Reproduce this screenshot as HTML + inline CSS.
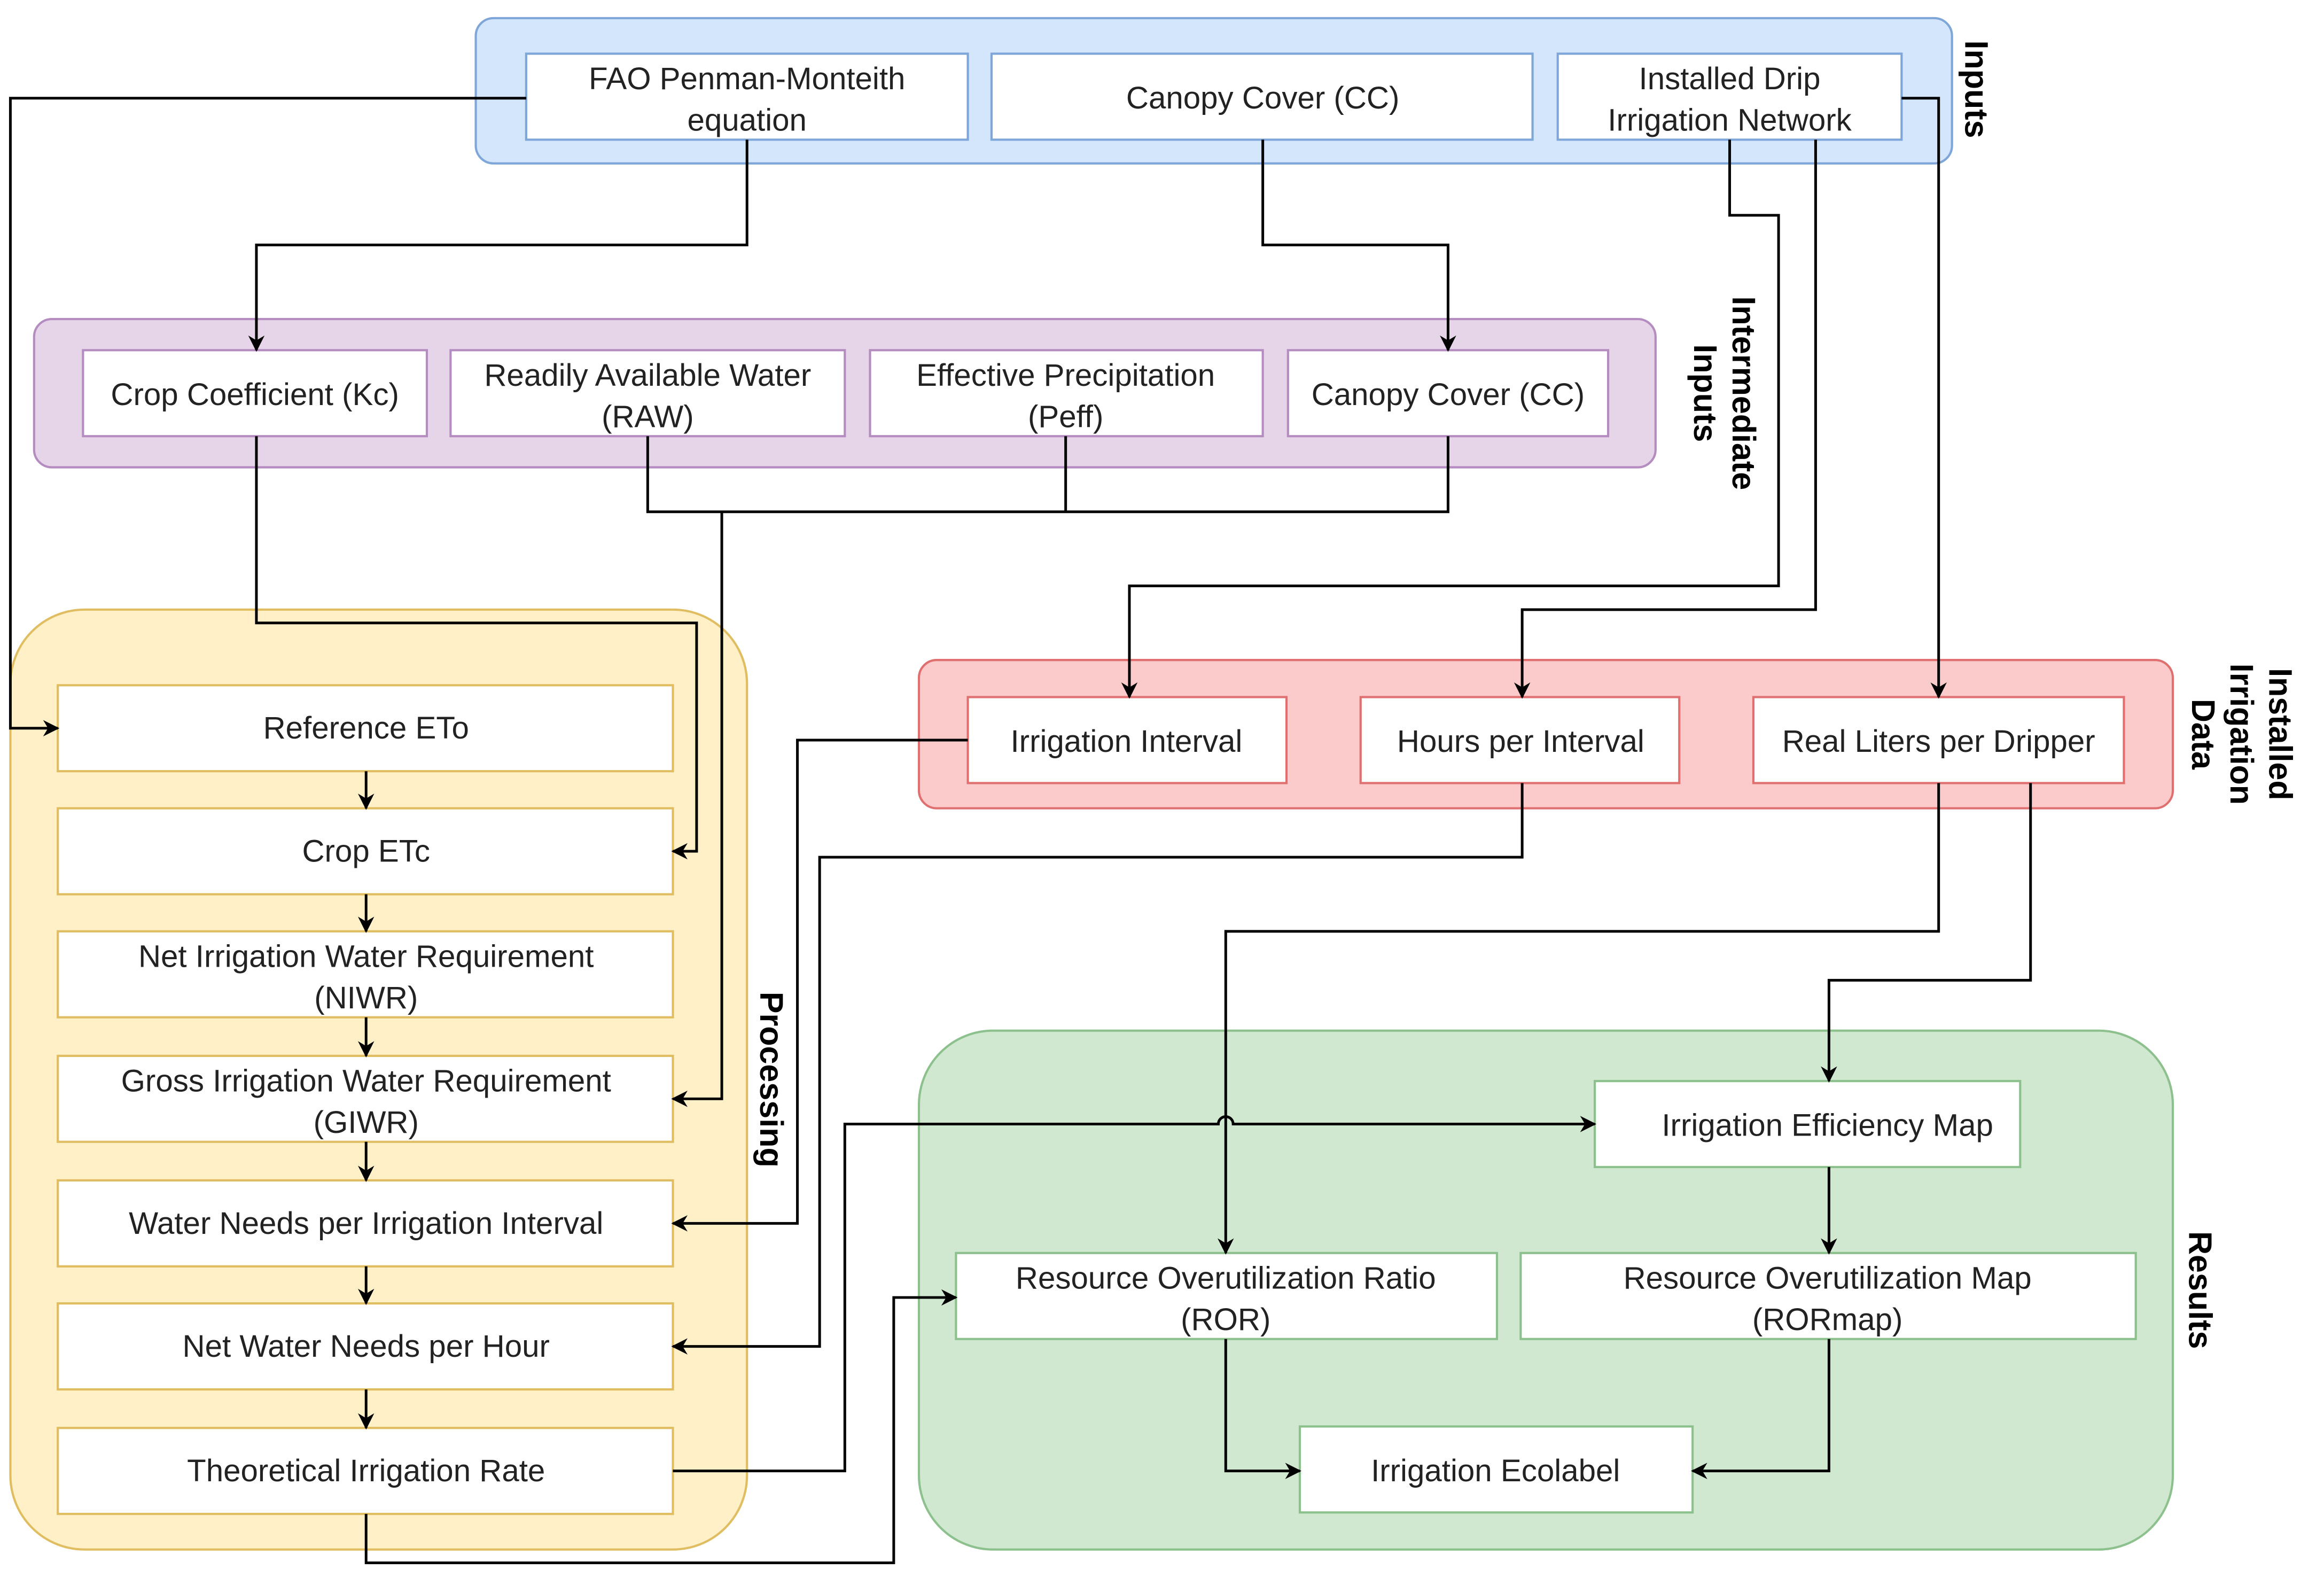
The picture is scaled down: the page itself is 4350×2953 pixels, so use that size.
<!DOCTYPE html>
<html><head><meta charset="utf-8"><style>html,body{margin:0;padding:0;background:#fff}svg{display:block}text{font-family:"Liberation Sans",Arial,sans-serif;font-size:21px;fill:#222}</style></head><body>
<svg width="4350" height="2953" viewBox="0 0 1568 1064" xmlns="http://www.w3.org/2000/svg">
<defs><marker id="a" viewBox="0 0 10 10" refX="9" refY="5" markerWidth="11" markerHeight="11" orient="auto" markerUnits="userSpaceOnUse"><path d="M0,0 L10,5 L0,10 L3,5 z" fill="#000"/></marker></defs>
<rect x="321" y="12" width="996" height="98" rx="12" fill="#d4e6fb" stroke="#7ea6d8" stroke-width="1.5"/>
<rect x="23" y="215" width="1094" height="100" rx="12" fill="#e6d5e8" stroke="#b58cc0" stroke-width="1.5"/>
<rect x="7" y="411" width="497" height="634" rx="50" fill="#fff0c8" stroke="#e0bd60" stroke-width="1.5"/>
<rect x="620" y="445" width="846" height="100" rx="12" fill="#fbcbcb" stroke="#e07070" stroke-width="1.5"/>
<rect x="620" y="695" width="846" height="350" rx="50" fill="#d0e8d0" stroke="#8cc08c" stroke-width="1.5"/>
<text transform="translate(1326,60) rotate(90)" text-anchor="middle" style="font-weight:bold;font-size:22px;fill:#000">Inputs</text>
<text transform="translate(1158,265) rotate(90)" text-anchor="middle" style="font-weight:bold;font-size:22px;fill:#000"><tspan x="0" y="-11">Intermediate</tspan><tspan x="0" y="15">Inputs</tspan></text>
<text transform="translate(513,728) rotate(90)" text-anchor="middle" style="font-weight:bold;font-size:22px;fill:#000">Processing</text>
<text transform="translate(1505,495) rotate(90)" text-anchor="middle" style="font-weight:bold;font-size:22px;fill:#000"><tspan x="0" y="-26">Installed</tspan><tspan x="0" y="0">Irrigation</tspan><tspan x="0" y="26">Data</tspan></text>
<text transform="translate(1477,870) rotate(90)" text-anchor="middle" style="font-weight:bold;font-size:22px;fill:#000">Results</text>
<g fill="#fff" stroke-width="1.5">
<rect x="355" y="36" width="298" height="58" stroke="#7ea6d8"/>
<rect x="669" y="36" width="365" height="58" stroke="#7ea6d8"/>
<rect x="1051" y="36" width="232" height="58" stroke="#7ea6d8"/>
<rect x="56" y="236" width="232" height="58" stroke="#b58cc0"/>
<rect x="304" y="236" width="266" height="58" stroke="#b58cc0"/>
<rect x="587" y="236" width="265" height="58" stroke="#b58cc0"/>
<rect x="869" y="236" width="216" height="58" stroke="#b58cc0"/>
<g stroke="#e0bd60">
<rect x="39" y="462" width="415" height="58"/><rect x="39" y="545" width="415" height="58"/>
<rect x="39" y="628" width="415" height="58"/><rect x="39" y="712" width="415" height="58"/>
<rect x="39" y="796" width="415" height="58"/><rect x="39" y="879" width="415" height="58"/>
<rect x="39" y="963" width="415" height="58"/></g>
<g stroke="#e07070">
<rect x="653" y="470" width="215" height="58"/><rect x="918" y="470" width="215" height="58"/><rect x="1183" y="470" width="250" height="58"/></g>
<g stroke="#8cc08c">
<rect x="1076" y="729" width="287" height="58"/><rect x="645" y="845" width="365" height="58"/>
<rect x="1026" y="845" width="415" height="58"/><rect x="877" y="962" width="265" height="58"/></g>
</g>
<g text-anchor="middle">
<text x="504" y="60">FAO Penman-Monteith</text><text x="504" y="88">equation</text>
<text x="852" y="73">Canopy Cover (CC)</text>
<text x="1167" y="60">Installed Drip</text><text x="1167" y="88">Irrigation Network</text>
<text x="172" y="273">Crop Coefficient (Kc)</text>
<text x="437" y="260">Readily Available Water</text><text x="437" y="288">(RAW)</text>
<text x="719" y="260">Effective Precipitation</text><text x="719" y="288">(Peff)</text>
<text x="977" y="273">Canopy Cover (CC)</text>
<text x="247" y="498">Reference ETo</text>
<text x="247" y="581">Crop ETc</text>
<text x="247" y="652">Net Irrigation Water Requirement</text><text x="247" y="680">(NIWR)</text>
<text x="247" y="736">Gross Irrigation Water Requirement</text><text x="247" y="764">(GIWR)</text>
<text x="247" y="832">Water Needs per Irrigation Interval</text>
<text x="247" y="915">Net Water Needs per Hour</text>
<text x="247" y="999">Theoretical Irrigation Rate</text>
<text x="760" y="507">Irrigation Interval</text>
<text x="1026" y="507">Hours per Interval</text>
<text x="1308" y="507">Real Liters per Dripper</text>
<text x="1233" y="766">Irrigation Efficiency Map</text>
<text x="827" y="869">Resource Overutilization Ratio</text><text x="827" y="897">(ROR)</text>
<text x="1233" y="869">Resource Overutilization Map</text><text x="1233" y="897">(RORmap)</text>
<text x="1009" y="999">Irrigation Ecolabel</text>
</g>
<g fill="none" stroke="#000" stroke-width="1.8">
<path d="M355,66 H7 V491 H39" marker-end="url(#a)"/>
<path d="M504,94 V165 H173 V236" marker-end="url(#a)"/>
<path d="M852,94 V165 H977 V236" marker-end="url(#a)"/>
<path d="M1167,94 V145 H1200 V395 H762 V470" marker-end="url(#a)"/>
<path d="M1225,94 V411 H1027 V470" marker-end="url(#a)"/>
<path d="M1283,66 H1308 V470" marker-end="url(#a)"/>
<path d="M173,294 V420 H470 V574 H454" marker-end="url(#a)"/>
<path d="M437,294 V345 H977 V294 M719,294 V345"/>
<path d="M487,345 V741 H454" marker-end="url(#a)"/>
<path d="M247,520 V545" marker-end="url(#a)"/>
<path d="M247,603 V628" marker-end="url(#a)"/>
<path d="M247,686 V712" marker-end="url(#a)"/>
<path d="M247,770 V796" marker-end="url(#a)"/>
<path d="M247,854 V879" marker-end="url(#a)"/>
<path d="M247,937 V963" marker-end="url(#a)"/>
<path d="M653,499 H538 V825 H454" marker-end="url(#a)"/>
<path d="M1027,528 V578 H553 V908 H454" marker-end="url(#a)"/>
<path d="M1308,528 V628 H827 V845" marker-end="url(#a)"/>
<path d="M1370,528 V661 H1234 V729" marker-end="url(#a)"/>
<path d="M454,992 H570 V758 H822 A5,5 0 0 1 832,758 H1076" marker-end="url(#a)"/>
<path d="M247,1021 V1054 H603 V875 H645" marker-end="url(#a)"/>
<path d="M1234,787 V845" marker-end="url(#a)"/>
<path d="M827,903 V992 H877" marker-end="url(#a)"/>
<path d="M1234,903 V992 H1142" marker-end="url(#a)"/>
</g>
</svg>
</body></html>
